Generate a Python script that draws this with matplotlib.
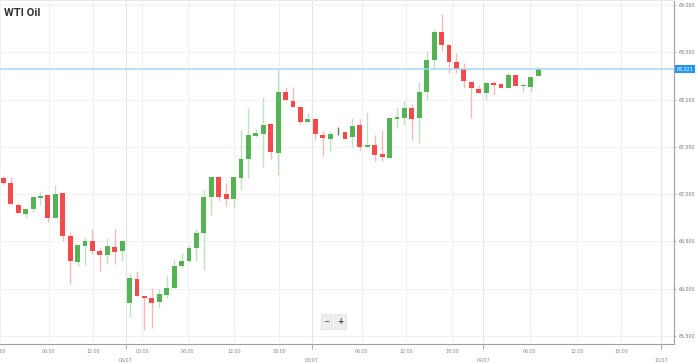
import matplotlib
matplotlib.use('Agg')
import matplotlib.pyplot as plt
from matplotlib.transforms import blended_transform_factory

title = "WTI Oil"

opens = [67.170, 67.113, 66.887, 66.788, 66.841, 66.958, 66.989, 66.753, 67.014, 66.559,
         66.288, 66.457, 66.503, 66.400, 66.362, 66.439, 66.394, 65.850, 66.108, 65.924,
         65.899, 65.860, 65.939, 66.008, 66.238, 66.294, 66.436, 66.590, 66.971, 67.177,
         66.997, 66.954, 67.166, 67.370, 67.614, 67.635, 67.738, 67.437, 68.083, 67.987,
         67.917, 67.762, 67.790, 67.624, 67.585, 67.667, 67.653, 67.600, 67.727, 67.494,
         67.515, 67.420, 67.378, 67.797, 67.807, 67.913, 67.807, 68.076, 68.418, 68.717,
         68.577, 68.400, 68.320, 68.182, 68.114, 68.072, 68.178, 68.161, 68.125, 68.256,
         68.143, 68.135, 68.249]
closes = [67.113, 66.891, 66.796, 66.841, 66.965, 66.986, 66.743, 67.007, 66.556, 66.294,
          66.463, 66.506, 66.400, 66.358, 66.447, 66.389, 66.510, 66.119, 65.928, 65.903,
          65.847, 65.949, 66.005, 66.241, 66.294, 66.436, 66.590, 66.971, 67.177, 66.971,
          66.954, 67.177, 67.367, 67.621, 67.642, 67.730, 67.444, 68.076, 67.995, 67.924,
          67.759, 67.790, 67.632, 67.593, 67.635, 67.667, 67.582, 67.720, 67.494, 67.515,
          67.413, 67.388, 67.804, 67.815, 67.907, 67.797, 68.083, 68.418, 68.717, 68.577,
          68.400, 68.320, 68.196, 68.125, 68.072, 68.175, 68.153, 68.119, 68.256, 68.143,
          68.146, 68.241, 68.321]
highs = [67.190, 67.177, 66.902, 66.841, 66.982, 67.035, 66.989, 67.095, 67.014, 66.601,
         66.463, 66.542, 66.633, 66.442, 66.538, 66.630, 66.510, 66.153, 66.193, 65.924,
         66.008, 66.002, 66.143, 66.315, 66.379, 66.460, 66.637, 67.042, 67.180, 67.190,
         67.113, 67.180, 67.677, 67.907, 67.685, 68.023, 67.740, 68.320, 68.135, 68.129,
         67.917, 67.854, 67.790, 67.670, 67.667, 67.712, 67.653, 67.801, 67.790, 67.865,
         67.624, 67.677, 67.804, 67.907, 67.981, 67.949, 68.185, 68.516, 68.743, 68.905,
         68.580, 68.489, 68.389, 68.182, 68.150, 68.188, 68.196, 68.172, 68.288, 68.270,
         68.171, 68.249, 68.347]
lows = [67.100, 66.891, 66.796, 66.746, 66.813, 66.887, 66.707, 66.753, 66.506, 66.055,
        66.241, 66.249, 66.372, 66.188, 66.259, 66.259, 66.294, 65.702, 65.928, 65.568,
        65.589, 65.797, 65.907, 66.008, 66.224, 66.284, 66.294, 66.196, 66.778, 66.926,
        66.880, 66.855, 67.042, 67.166, 67.600, 67.283, 67.370, 67.208, 67.995, 67.924,
        67.738, 67.762, 67.579, 67.405, 67.448, 67.624, 67.582, 67.508, 67.466, 67.494,
        67.349, 67.349, 67.378, 67.695, 67.727, 67.571, 67.537, 67.995, 68.320, 68.516,
        68.277, 68.277, 68.125, 67.801, 68.072, 67.995, 68.048, 68.119, 68.125, 68.143,
        68.083, 68.076, 68.249]
last_price = 68.321

# x axis: positions in candle-slot units
hour_tick_pos = [-0.45, 6.09, 12.05, 18.7, 24.8, 31.05, 37.1, 48.25, 54.25, 60.45, 70.9, 77.3, 83.2]
hour_tick_labels = ["00:00", "06:00", "12:00", "00:00", "06:00", "12:00", "18:00",
                    "06:00", "12:00", "18:00", "06:00", "12:00", "18:00"]
date_tick_pos = [16.5, 41.5, 64.6, 88.55]
date_tick_labels = ["06/07", "08/07", "09/07", "10/07"]
y_ticks = [65.5, 66.0, 66.5, 67.0, 67.5, 68.0, 68.5, 69.0]

W, H = 698, 364
fig = plt.figure(figsize=(W / 100, H / 100), dpi=100)
ax = fig.add_axes([0, 20 / H, 674 / W, 344 / H])
ax.set_xlim(0.5 / 7.47, 674.5 / 7.47)
ax.set_ylim(65.416, 69.053)

# grid
for y in y_ticks:
    ax.axhline(y, color='#f1f1f1', lw=0.8, zorder=0)
for x in hour_tick_pos:
    ax.axvline(x, color='#f1f1f1', lw=0.8, zorder=0)
for x in date_tick_pos:
    ax.axvline(x, color='#e6e6e6', lw=0.8, zorder=0)

green, red, gray = '#55b255', '#f24b4b', '#707070'
green_w, red_w, gray_w = '#bfe3bf', '#f9b8b8', '#707070'
xs = list(range(len(opens)))
for i in xs:
    o, c, h, l = opens[i], closes[i], highs[i], lows[i]
    if c > o:
        col, wc = green, green_w
    elif c < o:
        col, wc = red, red_w
    else:
        col, wc = gray, gray_w
    ax.vlines(i, l, h, color=wc, lw=1.0, zorder=2)
    ax.bar(i, max(abs(c - o), 0.008), bottom=min(o, c) - (0.004 if c == o else 0),
           width=0.66, color=col, edgecolor='none', zorder=3)

# last price line
ax.axhline(last_price, color='#a9d6f3', lw=1.1, zorder=4)
tr = blended_transform_factory(ax.transAxes, ax.transData)
ax.text(1.004, last_price, f"{last_price:.3f}", transform=tr, fontsize=3.4, color='white',
        ha='left', va='center', clip_on=False,
        bbox=dict(boxstyle='square,pad=0.35', facecolor='#2196f3', edgecolor='none'))

# spines
for s in ['left']:
    ax.spines[s].set_visible(False)
ax.spines['top'].set_color('#e8e8e8')
ax.spines['top'].set_linewidth(0.8)
ax.spines['right'].set_color('#a0a0a0')
ax.spines['bottom'].set_color('#a0a0a0')
ax.spines['right'].set_linewidth(0.8)
ax.spines['bottom'].set_linewidth(0.8)

ax.yaxis.tick_right()
ax.set_yticks(y_ticks)
ax.set_yticklabels([f"{v:.3f}" for v in y_ticks])
ax.tick_params(axis='y', length=1.5, width=0.5, color='#999999', labelsize=3.4,
               labelcolor='#777777', pad=1.5)

ax.set_xticks(hour_tick_pos)
ax.set_xticklabels(hour_tick_labels)
ax.set_xticks(date_tick_pos, minor=True)
ax.set_xticklabels(date_tick_labels, minor=True)
ax.tick_params(axis='x', which='major', length=0, labelsize=3.4, labelcolor='#888888', pad=3.6)
ax.tick_params(axis='x', which='minor', length=3.5, width=0.6, color='#a0a0a0',
               labelsize=3.4, labelcolor='#888888', pad=6.0)
for lab in ax.get_xticklabels():
    lab.set_clip_on(False)

# title
fig.text(4 / W, 1 - 12.5 / H, title, fontsize=8, fontweight='bold', color='#333333',
         ha='left', va='center', family=['Roboto', 'DejaVu Sans'])

# zoom buttons
fig.text(326.5 / W, 1 - 321.5 / H, "\u2212", fontsize=5.5, color='#444444', ha='center', va='center',
         bbox=dict(boxstyle='square,pad=0.35', facecolor='#eeeeee', edgecolor='#dddddd', lw=0.5))
fig.text(340 / W, 1 - 321.5 / H, "+", fontsize=5.5, color='#444444', ha='center', va='center',
         fontweight='bold',
         bbox=dict(boxstyle='square,pad=0.35', facecolor='#eeeeee', edgecolor='#dddddd', lw=0.5))

fig.savefig('out.png', dpi=100, facecolor='white')
